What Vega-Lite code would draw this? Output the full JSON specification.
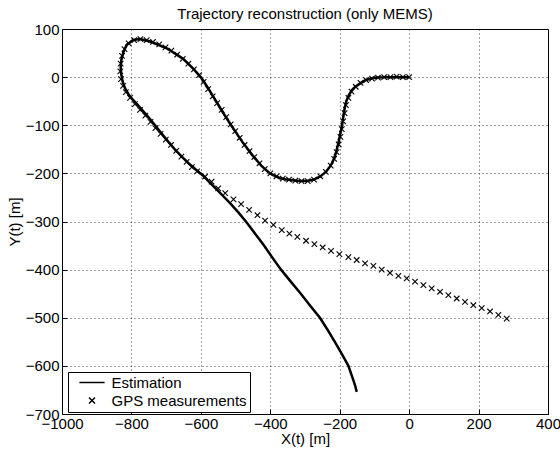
{
  "$schema": "https://vega.github.io/schema/vega-lite/v6.json",
  "width": 486,
  "height": 385,
  "autosize": {"type": "none"},
  "padding": {"left": 62, "top": 29, "right": 12, "bottom": 41},
  "background": "white",
  "title": {"text": "Trajectory reconstruction (only MEMS)", "font": "Liberation Sans", "fontSize": 15, "fontWeight": "normal", "color": "black", "offset": 0},
  "config": {
    "view": {"stroke": "black", "strokeWidth": 1},
    "axis": {
      "grid": true, "gridColor": "black", "gridDash": [1, 3], "gridOpacity": 0.75, "gridWidth": 1,
      "domainColor": "black", "tickColor": "black", "labelColor": "black", "titleColor": "black",
      "labelFont": "Liberation Sans", "labelFontSize": 15, "titleFont": "Liberation Sans", "titleFontSize": 15, "titleFontWeight": "normal",
      "labelFlush": false, "labelOverlap": false, "format": "d"
    },
    "legend": {"labelFont": "Liberation Sans", "labelFontSize": 15, "labelColor": "black"}
  },
  "datasets": {
    "est": [
      {"i": 1, "x": 0, "y": 0}, {"i": 2, "x": -30, "y": 0}, {"i": 3, "x": -60, "y": 0}, {"i": 4, "x": -90, "y": -1},
      {"i": 5, "x": -105, "y": -2}, {"i": 6, "x": -125, "y": -6}, {"i": 7, "x": -141, "y": -13}, {"i": 8, "x": -155, "y": -20},
      {"i": 9, "x": -165, "y": -27}, {"i": 10, "x": -174, "y": -38}, {"i": 11, "x": -180, "y": -48}, {"i": 12, "x": -185, "y": -62},
      {"i": 13, "x": -188, "y": -75}, {"i": 14, "x": -191, "y": -89}, {"i": 15, "x": -194, "y": -103}, {"i": 16, "x": -199, "y": -120},
      {"i": 17, "x": -204, "y": -138}, {"i": 18, "x": -209, "y": -152}, {"i": 19, "x": -214, "y": -165}, {"i": 20, "x": -220, "y": -176},
      {"i": 21, "x": -228, "y": -186}, {"i": 22, "x": -240, "y": -197}, {"i": 23, "x": -257, "y": -207}, {"i": 24, "x": -275, "y": -213},
      {"i": 25, "x": -295, "y": -216}, {"i": 26, "x": -314, "y": -216}, {"i": 27, "x": -343, "y": -214}, {"i": 28, "x": -372, "y": -210},
      {"i": 29, "x": -401, "y": -200}, {"i": 30, "x": -426, "y": -184}, {"i": 31, "x": -453, "y": -161}, {"i": 32, "x": -482, "y": -133},
      {"i": 33, "x": -510, "y": -103}, {"i": 34, "x": -535, "y": -75}, {"i": 35, "x": -558, "y": -48}, {"i": 36, "x": -579, "y": -23},
      {"i": 37, "x": -598, "y": -2}, {"i": 38, "x": -620, "y": 16}, {"i": 39, "x": -651, "y": 38}, {"i": 40, "x": -698, "y": 60},
      {"i": 41, "x": -746, "y": 74}, {"i": 42, "x": -775, "y": 79}, {"i": 43, "x": -795, "y": 77}, {"i": 44, "x": -814, "y": 67},
      {"i": 45, "x": -823, "y": 52}, {"i": 46, "x": -829, "y": 36}, {"i": 47, "x": -831, "y": 20}, {"i": 48, "x": -829, "y": 5},
      {"i": 49, "x": -825, "y": -10}, {"i": 50, "x": -818, "y": -24}, {"i": 51, "x": -808, "y": -36}, {"i": 52, "x": -798, "y": -45},
      {"i": 53, "x": -784, "y": -56}, {"i": 54, "x": -767, "y": -70}, {"i": 55, "x": -750, "y": -84}, {"i": 56, "x": -732, "y": -100},
      {"i": 57, "x": -713, "y": -117}, {"i": 58, "x": -694, "y": -134}, {"i": 59, "x": -675, "y": -150}, {"i": 60, "x": -655, "y": -165},
      {"i": 61, "x": -634, "y": -180}, {"i": 62, "x": -613, "y": -193}, {"i": 63, "x": -593, "y": -205}, {"i": 64, "x": -574, "y": -219},
      {"i": 65, "x": -556, "y": -232}, {"i": 66, "x": -536, "y": -247}, {"i": 67, "x": -516, "y": -262}, {"i": 68, "x": -492, "y": -281},
      {"i": 69, "x": -468, "y": -302}, {"i": 70, "x": -443, "y": -326}, {"i": 71, "x": -418, "y": -350}, {"i": 72, "x": -394, "y": -375},
      {"i": 73, "x": -369, "y": -400}, {"i": 74, "x": -341, "y": -425}, {"i": 75, "x": -312, "y": -450}, {"i": 76, "x": -285, "y": -475},
      {"i": 77, "x": -257, "y": -500}, {"i": 78, "x": -235, "y": -525}, {"i": 79, "x": -214, "y": -550}, {"i": 80, "x": -194, "y": -575},
      {"i": 81, "x": -175, "y": -600}, {"i": 82, "x": -163, "y": -625}, {"i": 83, "x": -156, "y": -640}, {"i": 84, "x": -151, "y": -654}
    ],
    "gps": [
      {"x": 0, "y": 0}, {"x": -18, "y": 0}, {"x": -36, "y": 1}, {"x": -54, "y": 0}, {"x": -72, "y": 0}, {"x": -90, "y": -1},
      {"x": -107, "y": -3}, {"x": -124, "y": -6}, {"x": -140, "y": -12}, {"x": -154, "y": -20}, {"x": -166, "y": -30}, {"x": -175, "y": -43},
      {"x": -182, "y": -58}, {"x": -186, "y": -75}, {"x": -190, "y": -92}, {"x": -194, "y": -108}, {"x": -198, "y": -124}, {"x": -203, "y": -140},
      {"x": -209, "y": -156}, {"x": -216, "y": -170}, {"x": -226, "y": -184}, {"x": -240, "y": -197}, {"x": -256, "y": -206}, {"x": -274, "y": -213},
      {"x": -292, "y": -216}, {"x": -310, "y": -216}, {"x": -328, "y": -215}, {"x": -346, "y": -213}, {"x": -364, "y": -211}, {"x": -382, "y": -206},
      {"x": -400, "y": -200}, {"x": -416, "y": -191}, {"x": -431, "y": -179}, {"x": -446, "y": -166}, {"x": -460, "y": -154}, {"x": -474, "y": -141},
      {"x": -488, "y": -126}, {"x": -501, "y": -112}, {"x": -514, "y": -98}, {"x": -527, "y": -83}, {"x": -540, "y": -68}, {"x": -553, "y": -54},
      {"x": -566, "y": -40}, {"x": -579, "y": -25}, {"x": -592, "y": -10}, {"x": -605, "y": 4}, {"x": -620, "y": 16}, {"x": -636, "y": 28},
      {"x": -652, "y": 38}, {"x": -668, "y": 47}, {"x": -685, "y": 55}, {"x": -702, "y": 62}, {"x": -720, "y": 68}, {"x": -738, "y": 73},
      {"x": -756, "y": 77}, {"x": -774, "y": 79}, {"x": -792, "y": 77}, {"x": -808, "y": 70}, {"x": -820, "y": 58}, {"x": -827, "y": 44},
      {"x": -831, "y": 28}, {"x": -832, "y": 12}, {"x": -830, "y": -4}, {"x": -824, "y": -18}, {"x": -816, "y": -31}, {"x": -804, "y": -43},
      {"x": -790, "y": -56}, {"x": -775, "y": -68}, {"x": -760, "y": -80}, {"x": -745, "y": -93}, {"x": -731, "y": -106}, {"x": -716, "y": -118},
      {"x": -701, "y": -130}, {"x": -686, "y": -141}, {"x": -671, "y": -153}, {"x": -656, "y": -165}, {"x": -641, "y": -176}, {"x": -626, "y": -187},
      {"x": -611, "y": -196}, {"x": -588, "y": -207}, {"x": -569, "y": -217}, {"x": -550, "y": -231}, {"x": -530, "y": -241}, {"x": -506, "y": -254},
      {"x": -484, "y": -264}, {"x": -461, "y": -276}, {"x": -437, "y": -287}, {"x": -415, "y": -298}, {"x": -391, "y": -307}, {"x": -367, "y": -318},
      {"x": -345, "y": -325}, {"x": -322, "y": -332}, {"x": -297, "y": -340}, {"x": -273, "y": -347}, {"x": -249, "y": -354}, {"x": -225, "y": -361},
      {"x": -201, "y": -368}, {"x": -175, "y": -374}, {"x": -151, "y": -380}, {"x": -127, "y": -387}, {"x": -103, "y": -392}, {"x": -79, "y": -400},
      {"x": -55, "y": -407}, {"x": -31, "y": -413}, {"x": -7, "y": -418}, {"x": 17, "y": -425}, {"x": 41, "y": -432}, {"x": 65, "y": -439},
      {"x": 89, "y": -446}, {"x": 113, "y": -453}, {"x": 137, "y": -460}, {"x": 161, "y": -467}, {"x": 185, "y": -474}, {"x": 209, "y": -480},
      {"x": 233, "y": -487}, {"x": 257, "y": -494}, {"x": 281, "y": -502}
    ]
  },
  "layer": [
    {
      "data": {"name": "est"},
      "mark": {"type": "line", "color": "black", "strokeWidth": 2.5, "clip": true},
      "encoding": {
        "x": {"field": "x", "type": "quantitative", "scale": {"domain": [-1000, 400], "nice": false},
          "axis": {"values": [-1000, -800, -600, -400, -200, 0, 200, 400], "title": "X(t) [m]", "tickSize": -5, "labelPadding": 7, "titlePadding": 0}},
        "y": {"field": "y", "type": "quantitative", "scale": {"domain": [-700, 100], "nice": false},
          "axis": {"values": [-700, -600, -500, -400, -300, -200, -100, 0, 100], "title": "Y(t) [m]", "tickSize": -5, "labelPadding": 8, "titlePadding": 3}},
        "order": {"field": "i", "type": "quantitative"}
      }
    },
    {
      "data": {"name": "gps"},
      "mark": {"type": "point", "filled": false, "stroke": "black", "strokeWidth": 1.1, "size": 30, "opacity": 1},
      "encoding": {
        "x": {"field": "x", "type": "quantitative"},
        "y": {"field": "y", "type": "quantitative"},
        "shape": {
          "datum": "GPS measurements",
          "scale": {"domain": ["Estimation", "GPS measurements"], "range": ["M-4.2,0L4.2,0", "M-1,-1L1,1M1,-1L-1,1"]},
          "legend": {
            "title": null, "orient": "none", "legendX": 6, "legendY": 343,
            "strokeColor": "black", "fillColor": "white", "padding": 3, "rowPadding": 2,
            "symbolSize": 36, "symbolOffset": 13.5, "labelOffset": 12,
            "encode": {
              "symbols": {"update": {
                "strokeWidth": {"signal": "datum.value === 'Estimation' ? 2.5 : 1.1"},
                "stroke": {"value": "black"},
                "fill": {"value": "transparent"}
              }}
            }
          }
        }
      }
    }
  ]
}
